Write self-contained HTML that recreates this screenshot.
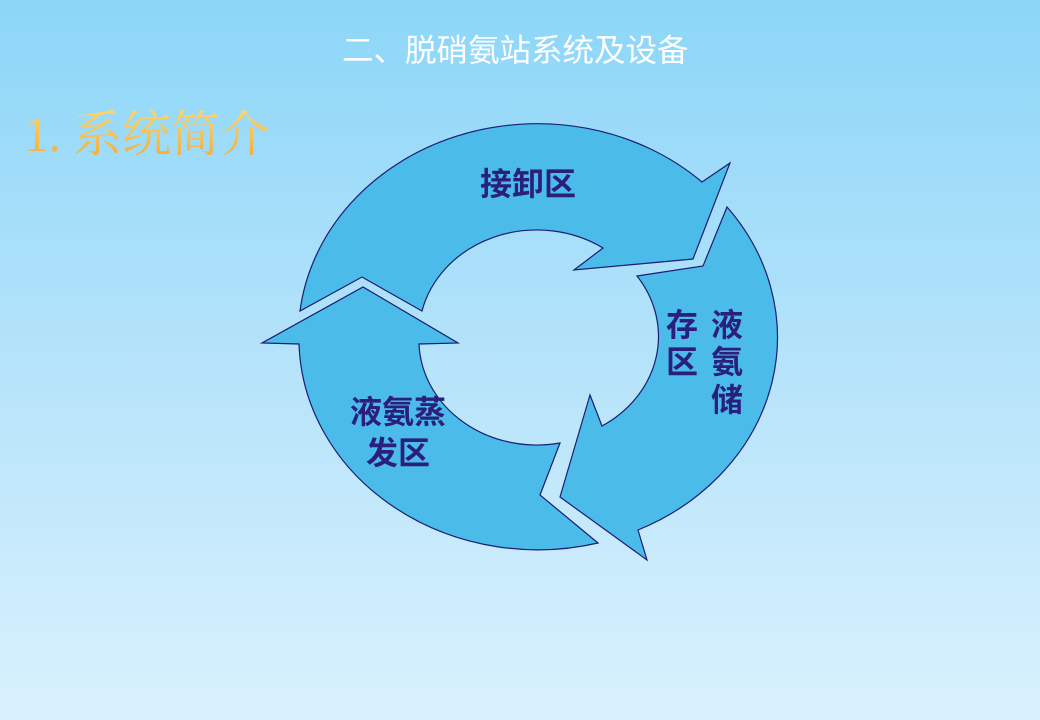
<!DOCTYPE html>
<html><head><meta charset="utf-8"><style>
html,body{margin:0;padding:0}
body{width:1040px;height:720px;overflow:hidden;background:linear-gradient(#8cd6f8,#b5e3fa 50%,#d9f1fd);position:relative;font-family:"Liberation Sans","Noto Sans CJK SC",sans-serif}
.t{position:absolute;white-space:nowrap}
</style></head><body>
<div class="t" style="left:342px;top:25px;font-size:31.5px;color:#fff">二、脱硝氨站系统及设备</div>
<div class="t" style="left:24px;top:96px;font-size:49px;font-family:'Liberation Serif','Noto Serif CJK SC',serif;background:linear-gradient(#fde27a,#f5a530);-webkit-background-clip:text;background-clip:text;color:transparent">1. 系统简介</div>
<svg width="1040" height="720" style="position:absolute;left:0;top:0">
<g fill="#4bbbe9" stroke="#1c1c72" stroke-width="1.2">
<path d="M300,311 A239,212 0 0 1 702,182 L730,163 L693,259 L574,270 L603,248 A118,105 0 0 0 422,311 L362,277 Z"/>
<path d="M637,276 L703,266 L727,207 A239,212 0 0 1 638,530 L647,560 L560,497 L590,395 L602,426 A118,105 0 0 0 637,276 Z"/>
<path d="M598,543 L540,495 L560,443 A118,105 0 0 1 419,344 L458,343 L363,287 L262,343 L299,344 A239,212 0 0 0 598,543 Z"/>
</g>
<g font-family="Liberation Sans,Noto Sans CJK SC,sans-serif" font-weight="bold" fill="#2a1f7c" font-size="32" text-anchor="middle">
<text x="528" y="195">接卸区</text>
<text x="727" y="336">液</text><text x="727" y="373">氨</text><text x="727" y="411">储</text>
<text x="682" y="336">存</text><text x="682" y="373">区</text>
<text x="398" y="423">液氨蒸</text>
<text x="398" y="464">发区</text>
</g>
</svg>
</body></html>
